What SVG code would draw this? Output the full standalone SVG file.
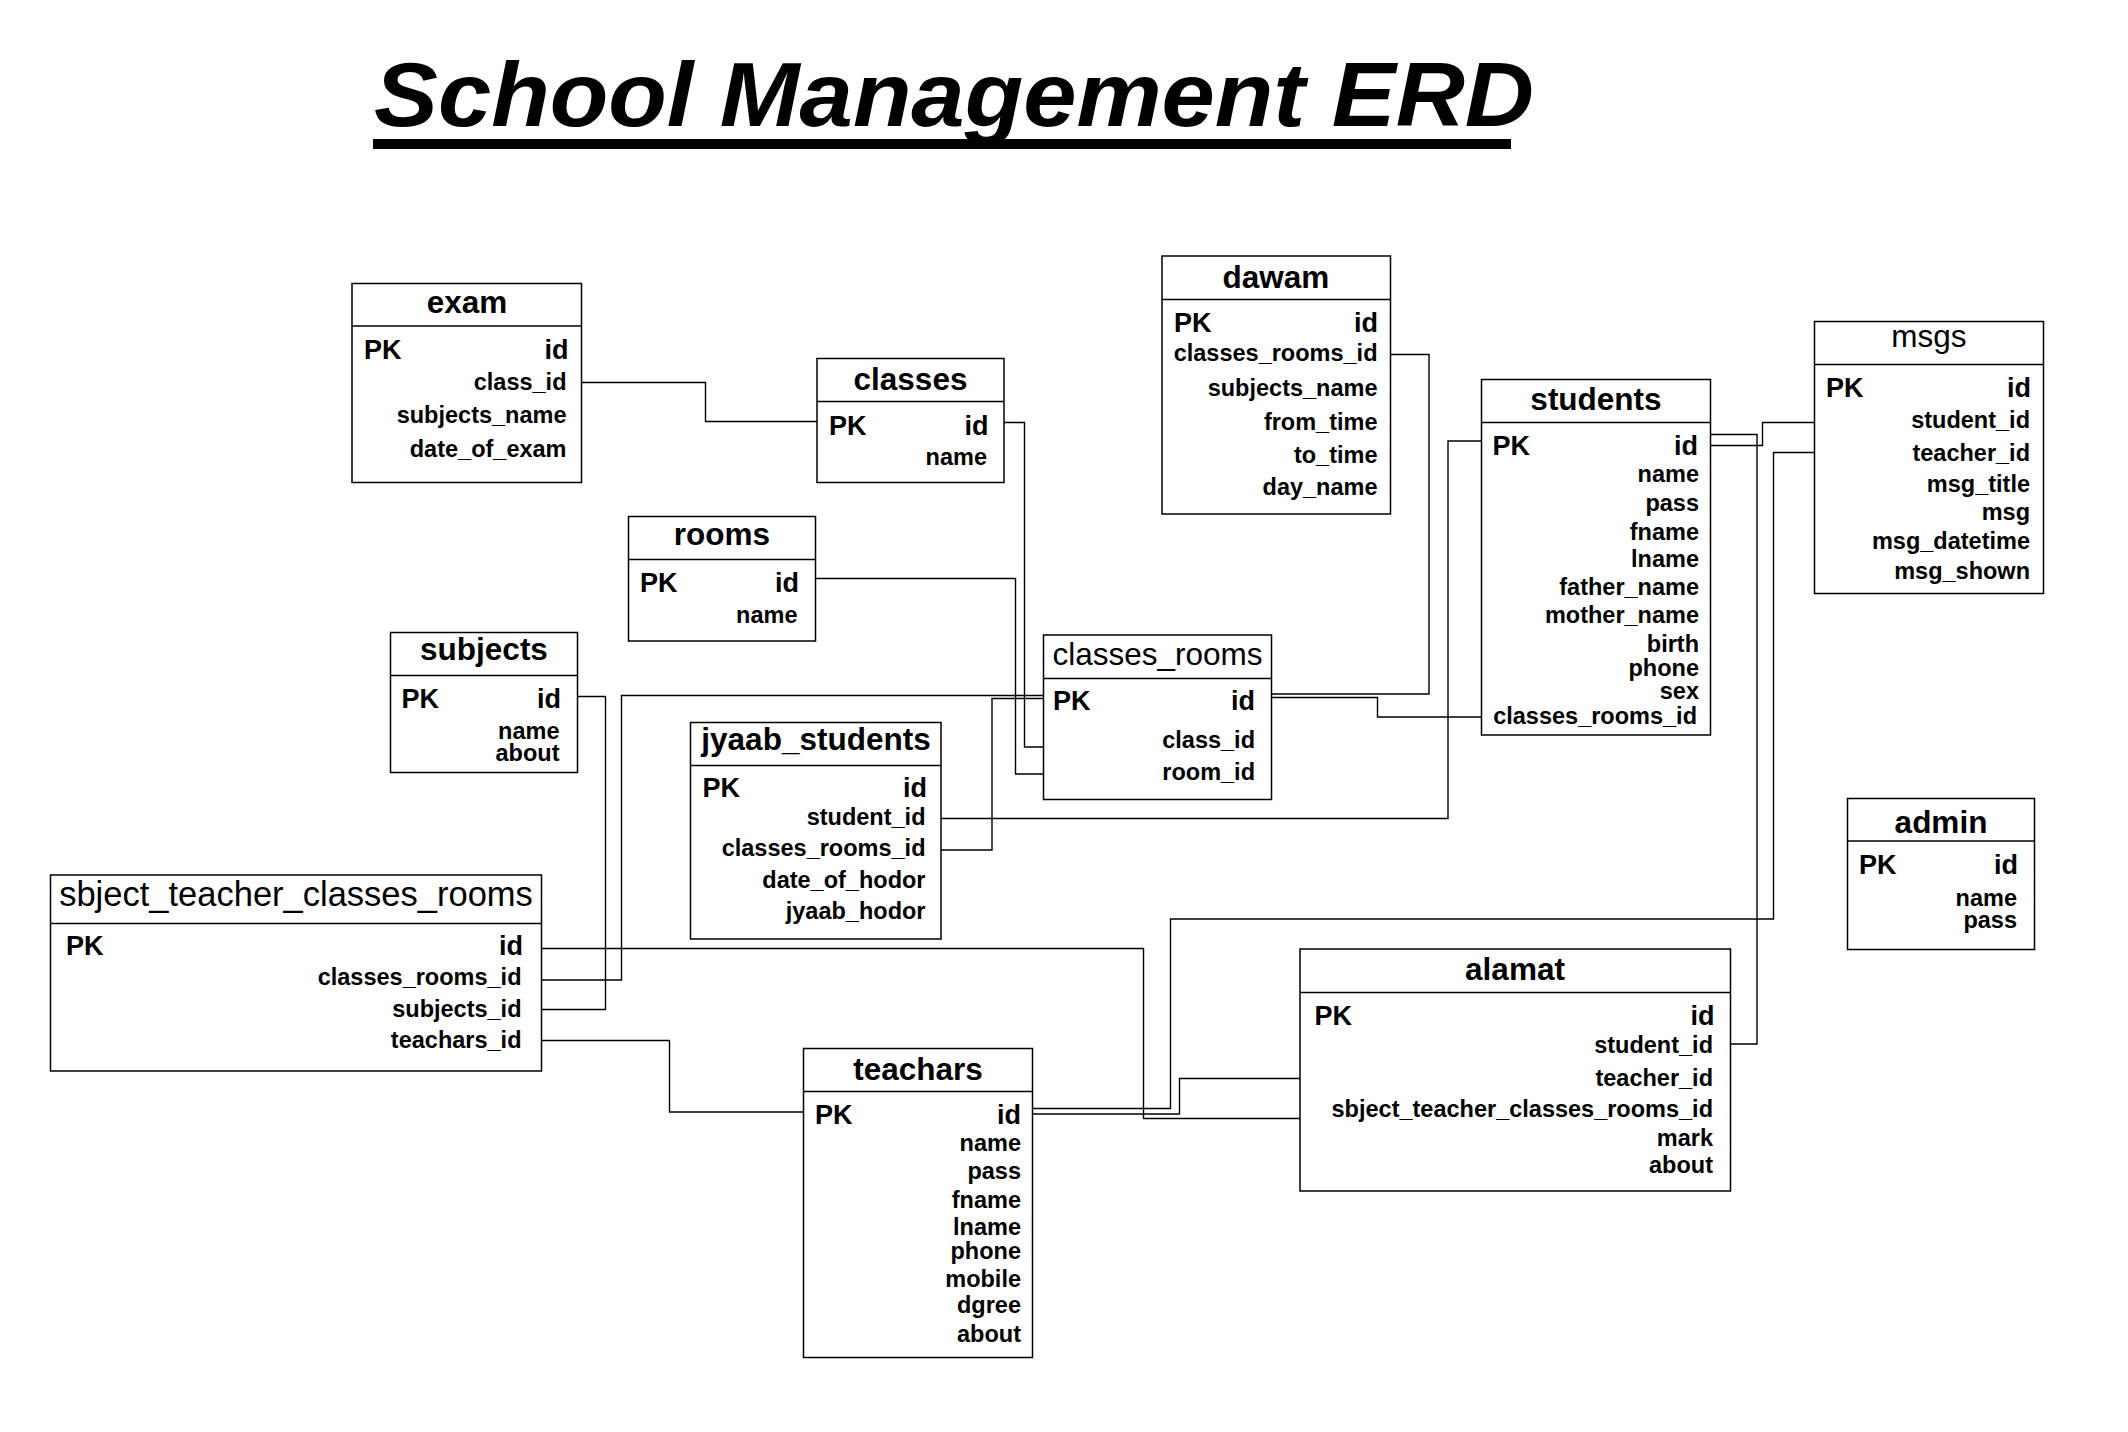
<svg xmlns="http://www.w3.org/2000/svg" width="2128" height="1432" viewBox="0 0 2128 1432">
<style>
text{font-family:"Liberation Sans",Arial,sans-serif;fill:#000}
.box{fill:#fff;stroke:#000;stroke-width:1.5}
.hdr{stroke:#000;stroke-width:1.5}
.t{font-size:31.5px;font-weight:bold;text-anchor:middle}
.tr{font-size:31.5px;font-weight:normal;text-anchor:middle}
.tr2{font-size:34.5px;font-weight:normal;text-anchor:middle}
.pk{font-size:27px;font-weight:bold}
.id{font-size:27px;font-weight:bold;text-anchor:end}
.f{font-size:23.5px;font-weight:bold;text-anchor:end}
.c path{fill:none;stroke:#000;stroke-width:1.4}
</style>
<rect width="2128" height="1432" fill="#fff"/>
<g id="title">
<text x="374" y="126" font-size="90" font-weight="bold" font-style="italic" textLength="1160" lengthAdjust="spacingAndGlyphs">School Management ERD</text>
<rect x="373" y="139" width="1138" height="10" fill="#000"/>
</g>
<g class="c" id="connectors">
<path d="M575 382.5H705.5V421.5H822"/>
<path d="M1000 422.5H1024.5V747H1048"/>
<path d="M812 578.5H1015.5V774H1048"/>
<path d="M567.5 696.5H605.5V1009.5H538.5"/>
<path d="M538.5 980H621.5V695.5H1048"/>
<path d="M939 850H992V698.5H1048"/>
<path d="M939 818.5H1448V441H1489"/>
<path d="M1268 694H1429V354.5H1386.5"/>
<path d="M1268 697.5H1377.5V717H1488"/>
<path d="M1705 445.5H1762.5V422.5H1823.5"/>
<path d="M1705 434.5H1757V1044H1727"/>
<path d="M1823.5 452.5H1773.5V919H1170.5V1108.5H1028.5"/>
<path d="M1305 1078.5H1179.5V1114H1028.5"/>
<path d="M538.5 948.5H1143.5V1118.5H1305"/>
<path d="M538.5 1040.5H669.5V1112H808"/>
</g>
<g id="exam">
<rect class="box" x="352" y="283.5" width="229.5" height="199" fill="none"/>
<line class="hdr" x1="352" y1="326" x2="581.5" y2="326"/>
<text class="t" x="467" y="313">exam</text>
<text class="pk" x="364" y="359">PK</text>
<text class="id" x="568.5" y="359">id</text>
<text class="f" x="566.5" y="390">class_id</text>
<text class="f" x="566.5" y="423">subjects_name</text>
<text class="f" x="566.5" y="457">date_of_exam</text>
</g>
<g id="classes">
<rect class="box" x="817" y="358.5" width="187" height="124"/>
<line class="hdr" x1="817" y1="401.5" x2="1004" y2="401.5"/>
<text class="t" x="910.5" y="390">classes</text>
<text class="pk" x="829" y="435">PK</text>
<text class="id" x="988.5" y="435">id</text>
<text class="f" x="987" y="465">name</text>
</g>
<g id="rooms">
<rect class="box" x="628.5" y="516.5" width="187" height="124.5"/>
<line class="hdr" x1="628.5" y1="559.5" x2="815.5" y2="559.5"/>
<text class="t" x="722" y="545">rooms</text>
<text class="pk" x="640" y="591.5">PK</text>
<text class="id" x="799" y="591.5">id</text>
<text class="f" x="797.5" y="623">name</text>
</g>
<g id="subjects">
<rect class="box" x="390.5" y="632.5" width="187" height="140"/>
<line class="hdr" x1="390.5" y1="675.5" x2="577.5" y2="675.5"/>
<text class="t" x="484" y="660">subjects</text>
<text class="pk" x="401.5" y="708">PK</text>
<text class="id" x="561" y="708">id</text>
<text class="f" x="559.5" y="739">name</text>
<text class="f" x="559.5" y="761">about</text>
</g>
<g id="sbject_teacher_classes_rooms">
<rect class="box" x="50.5" y="875" width="491" height="196"/>
<line class="hdr" x1="50.5" y1="923.5" x2="541.5" y2="923.5"/>
<text class="tr2" x="296" y="906">sbject_teacher_classes_rooms</text>
<text class="pk" x="66" y="955">PK</text>
<text class="id" x="523" y="955">id</text>
<text class="f" x="521.5" y="985">classes_rooms_id</text>
<text class="f" x="521.5" y="1016.5">subjects_id</text>
<text class="f" x="521.5" y="1048">teachars_id</text>
</g>
<g id="jyaab_students">
<rect class="box" x="690.5" y="722.5" width="250.5" height="216.5"/>
<line class="hdr" x1="690.5" y1="765.5" x2="941" y2="765.5"/>
<text class="t" x="816" y="750">jyaab_students</text>
<text class="pk" x="702.5" y="797">PK</text>
<text class="id" x="927" y="797">id</text>
<text class="f" x="925.5" y="825">student_id</text>
<text class="f" x="925.5" y="856">classes_rooms_id</text>
<text class="f" x="925.5" y="888">date_of_hodor</text>
<text class="f" x="925.5" y="919">jyaab_hodor</text>
</g>
<g id="classes_rooms">
<rect class="box" x="1043.5" y="635" width="228" height="164.5"/>
<line class="hdr" x1="1043.5" y1="678.5" x2="1271.5" y2="678.5"/>
<text class="tr" x="1157.5" y="665">classes_rooms</text>
<text class="pk" x="1053" y="710">PK</text>
<text class="id" x="1255" y="710">id</text>
<text class="f" x="1255" y="748">class_id</text>
<text class="f" x="1255" y="780">room_id</text>
</g>
<g id="dawam">
<rect class="box" x="1162" y="256" width="228.5" height="258"/>
<line class="hdr" x1="1162" y1="299.5" x2="1390.5" y2="299.5"/>
<text class="t" x="1276" y="288">dawam</text>
<text class="pk" x="1174" y="332">PK</text>
<text class="id" x="1378" y="332">id</text>
<text class="f" x="1377.5" y="360.5">classes_rooms_id</text>
<text class="f" x="1377.5" y="396">subjects_name</text>
<text class="f" x="1377.5" y="430">from_time</text>
<text class="f" x="1377.5" y="463">to_time</text>
<text class="f" x="1377.5" y="495">day_name</text>
</g>
<g id="students">
<rect class="box" x="1481.5" y="379.5" width="229" height="355.5"/>
<line class="hdr" x1="1481.5" y1="422.5" x2="1710.5" y2="422.5"/>
<text class="t" x="1596" y="410">students</text>
<text class="pk" x="1492.5" y="455">PK</text>
<text class="id" x="1698" y="455">id</text>
<text class="f" x="1699" y="481.5">name</text>
<text class="f" x="1699" y="511">pass</text>
<text class="f" x="1699" y="540">fname</text>
<text class="f" x="1699" y="567">lname</text>
<text class="f" x="1699" y="595">father_name</text>
<text class="f" x="1699" y="623">mother_name</text>
<text class="f" x="1699" y="652">birth</text>
<text class="f" x="1699" y="676">phone</text>
<text class="f" x="1699" y="699">sex</text>
<text class="f" x="1697" y="724">classes_rooms_id</text>
</g>
<g id="msgs">
<rect class="box" x="1814.5" y="321.5" width="229" height="272"/>
<line class="hdr" x1="1814.5" y1="364.5" x2="2043.5" y2="364.5"/>
<text class="tr" x="1929" y="347">msgs</text>
<text class="pk" x="1826" y="397">PK</text>
<text class="id" x="2031" y="397">id</text>
<text class="f" x="2030" y="428">student_id</text>
<text class="f" x="2030" y="460.5">teacher_id</text>
<text class="f" x="2030" y="492">msg_title</text>
<text class="f" x="2030" y="520">msg</text>
<text class="f" x="2030" y="549">msg_datetime</text>
<text class="f" x="2030" y="578.5">msg_shown</text>
</g>
<g id="admin">
<rect class="box" x="1847.5" y="798.5" width="187" height="151"/>
<line class="hdr" x1="1847.5" y1="841" x2="2034.5" y2="841"/>
<text class="t" x="1941" y="833">admin</text>
<text class="pk" x="1859" y="874">PK</text>
<text class="id" x="2018" y="874">id</text>
<text class="f" x="2017" y="906">name</text>
<text class="f" x="2017" y="928">pass</text>
</g>
<g id="alamat">
<rect class="box" x="1300" y="949" width="430.5" height="242"/>
<line class="hdr" x1="1300" y1="992.5" x2="1730.5" y2="992.5"/>
<text class="t" x="1515" y="980">alamat</text>
<text class="pk" x="1314.5" y="1025">PK</text>
<text class="id" x="1714.5" y="1025">id</text>
<text class="f" x="1713" y="1053">student_id</text>
<text class="f" x="1713" y="1086">teacher_id</text>
<text class="f" x="1713" y="1117">sbject_teacher_classes_rooms_id</text>
<text class="f" x="1713" y="1146">mark</text>
<text class="f" x="1713" y="1172.5">about</text>
</g>
<g id="teachars">
<rect class="box" x="803.5" y="1048.5" width="229" height="309"/>
<line class="hdr" x1="803.5" y1="1091.5" x2="1032.5" y2="1091.5"/>
<text class="t" x="918" y="1080">teachars</text>
<text class="pk" x="815" y="1124">PK</text>
<text class="id" x="1021" y="1124">id</text>
<text class="f" x="1021" y="1150.5">name</text>
<text class="f" x="1021" y="1179">pass</text>
<text class="f" x="1021" y="1208">fname</text>
<text class="f" x="1021" y="1235">lname</text>
<text class="f" x="1021" y="1259">phone</text>
<text class="f" x="1021" y="1287">mobile</text>
<text class="f" x="1021" y="1313">dgree</text>
<text class="f" x="1021" y="1341.5">about</text>
</g>
</svg>
